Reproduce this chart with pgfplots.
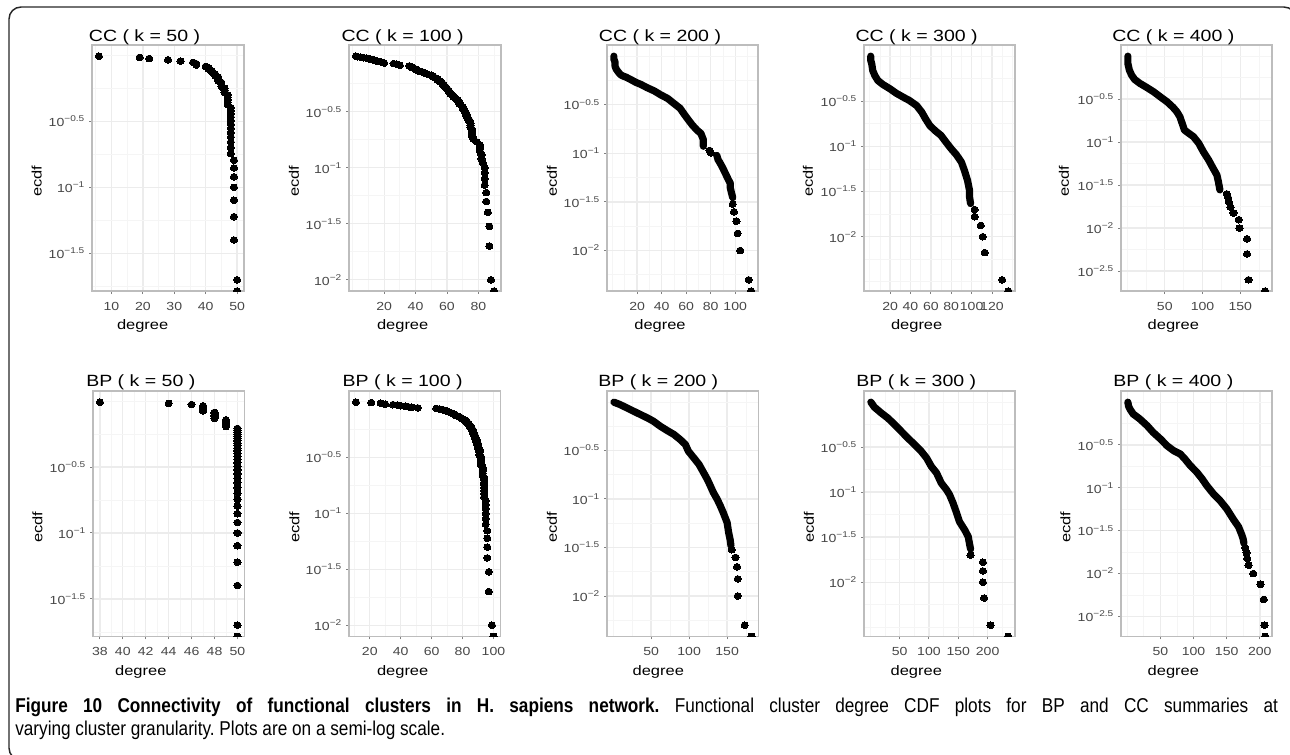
\documentclass[border=0pt]{standalone}
\usepackage{fontspec}
\setmainfont{Liberation Sans}
\newfontfamily\chartfont[FakeStretch=1.2]{Liberation Sans}
\newfontfamily\capfont[FakeStretch=0.86]{Liberation Sans}
\usepackage{pgfplots}
\pgfplotsset{compat=1.18}

\definecolor{gridmaj}{gray}{0.925}
\definecolor{gridmin}{gray}{0.96}
\definecolor{framec}{gray}{0.74}
\definecolor{tickc}{gray}{0.5}
\definecolor{ticklab}{gray}{0.28}
\newcommand\lt[1]{10\raisebox{0.42em}{\fontsize{6.3}{7}\selectfont −#1}}

\pgfplotsset{
  every axis/.append style={
    scale only axis, anchor=north west,
    width=114pt, height=184.5pt,
    axis line style={draw=framec, line width=1pt},
    grid=both,
    major grid style={draw=gridmaj, line width=1pt},
    minor grid style={draw=gridmin, line width=0.6pt},
    tick align=outside, tick pos=left,
    major tick length=2.25pt, minor tick length=0pt,
    tick style={draw=tickc, line width=0.7pt},
    tick label style={font=\chartfont\fontsize{8.8}{10}\selectfont, text=ticklab},
    xticklabel style={yshift=-2.6pt},
    clip marker paths=true,
  },
  ptsdots/.style={only marks, mark=*, mark size=2.5pt, mark options={fill=black, draw=black, line width=0pt, xscale=1.08}},
  ptsband/.style={draw=black, line width=5.4pt, line cap=round, line join=round, mark=none},
}
\pgfkeys{/pgf/number format/assume math mode=true, /pgf/number format/1000 sep={}}

\begin{document}
\begin{tikzpicture}
\path[use as bounding box] (0pt,0pt) rectangle (967.5pt,-565.5pt);
\draw[line width=1.1pt, black!85, rounded corners=9pt] (6.75pt,-5.25pt) rectangle (972pt,-570pt);

% ---------------- Row 1: CC ----------------
\begin{axis}[ymode=log, at={(69pt,-33.75pt)}, xmin=3.8, xmax=52.2,
  ymin=0.016462, ymax=1.1904, ytick={0.316228,0.1,0.0316228}, yticklabels={\lt{0.5},\lt{1},\lt{1.5}},
  minor ytick={1,0.562341,0.177828,0.0562341,0.0177828},
  xtick={10,20,30,40,50}, minor xtick={5,15,25,35,45}]
\addplot[ptsdots] coordinates {(6,0.98)(19,0.96)(22,0.94)(28,0.92)(32,0.90)(36,0.88)(37,0.86)(37,0.84)(40,0.82)(41,0.80)(41,0.78)(42,0.76)(42,0.74)(43,0.72)(43,0.70)(44,0.68)(44,0.66)(44,0.64)(45,0.62)(45,0.60)(45,0.58)(46,0.56)(46,0.54)(46,0.52)(47,0.50)(47,0.48)(47,0.46)(47,0.44)(47,0.42)(48,0.40)(48,0.38)(48,0.36)(48,0.34)(48,0.32)(48,0.30)(48,0.28)(48,0.26)(48,0.24)(48,0.22)(48,0.20)(48,0.18)(49,0.16)(49,0.14)(49,0.12)(49,0.10)(49,0.08)(49,0.06)(49,0.04)(50,0.02)(50,0.016462)};
\end{axis}

\begin{axis}[ymode=log, at={(261.75pt,-33.75pt)}, xmin=-2.4, xmax=94.4,
  ymin=0.0079469, ymax=1.2455, ytick={0.316228,0.1,0.0316228,0.01}, yticklabels={\lt{0.5},\lt{1},\lt{1.5},\lt{2}},
  minor ytick={1,0.562341,0.177828,0.0562341,0.0177828},
  xtick={20,40,60,80}, minor xtick={0,10,30,50,70,90}]
\addplot[ptsdots] coordinates {(2,0.99)(3,0.98)(5,0.97)(7,0.96)(9,0.95)(10,0.94)(11,0.93)(13,0.92)(14,0.91)(15,0.90)(16,0.89)(18,0.88)(19,0.87)(20,0.86)(26,0.85)(28,0.84)(29,0.83)(30,0.82)(36,0.81)(37,0.80)(38,0.79)(38,0.78)(39,0.77)(40,0.76)(40,0.75)(41,0.74)(42,0.73)(44,0.72)(45,0.71)(46,0.70)(47,0.69)(48,0.68)(50,0.67)(51,0.66)(51,0.65)(52,0.64)(53,0.63)(54,0.62)(54,0.61)(55,0.60)(56,0.59)(56,0.58)(57,0.57)(57,0.56)(58,0.55)(58,0.54)(59,0.53)(59,0.52)(60,0.51)(60,0.50)(61,0.49)(61,0.48)(62,0.47)(62,0.46)(63,0.45)(64,0.44)(64,0.43)(65,0.42)(66,0.41)(67,0.40)(67,0.39)(68,0.38)(68,0.37)(69,0.36)(70,0.35)(70,0.34)(71,0.33)(71,0.32)(72,0.31)(72,0.30)(73,0.29)(73,0.28)(74,0.27)(74,0.26)(75,0.25)(75,0.24)(75,0.23)(76,0.22)(76,0.21)(76,0.20)(76,0.19)(77,0.18)(79,0.17)(81,0.16)(81,0.15)(81,0.14)(82,0.13)(82,0.12)(83,0.11)(84,0.10)(84,0.09)(84,0.08)(84,0.07)(85,0.06)(85,0.05)(86,0.04)(87,0.03)(87,0.02)(88,0.01)(90,0.0079469)};
\end{axis}

\begin{axis}[ymode=log, width=113.25pt, at={(455.25pt,-33.75pt)}, xmin=-4.6, xmax=118.6,
  ymin=0.0038384, ymax=1.2960, ytick={0.316228,0.1,0.0316228,0.01}, yticklabels={\lt{0.5},\lt{1},\lt{1.5},\lt{2}},
  minor ytick={1,0.562341,0.177828,0.0562341,0.0177828,0.00562341},
  xtick={20,40,60,80,100}, minor xtick={0,10,30,50,70,90,110}]
\addplot[ptsband] coordinates {(1,0.995)(1,0.93)(2,0.86)(2,0.78)(3,0.73)(4,0.70)(6,0.65)(8,0.625)(11,0.605)(15,0.57)(19,0.535)(23,0.51)(28,0.473)(34,0.437)(39,0.40)(45,0.365)(50,0.325)(55,0.29)(58,0.256)(61,0.227)(65,0.195)(69,0.172)(72,0.16)(74,0.138)(74,0.118)};
\addplot[ptsband] coordinates {(85,0.095)(86,0.086)(88,0.078)(90,0.070)(92,0.062)(94,0.055)(96,0.049)(96,0.044)(97,0.039)(98,0.035)};
\addplot[ptsdots] coordinates {(79,0.107)(80,0.101)(98,0.03)(99,0.025)(101,0.02)(102,0.015)(104,0.01)(111,0.005)(113,0.0038384)};
\end{axis}

\begin{axis}[ymode=log, width=113.25pt, at={(648pt,-33.75pt)}, xmin=-5.6, xmax=142.6,
  ymin=0.0025061, ymax=1.3250, ytick={0.316228,0.1,0.0316228,0.01}, yticklabels={\lt{0.5},\lt{1},\lt{1.5},\lt{2}},
  minor ytick={1,0.562341,0.177828,0.0562341,0.0177828,0.00562341,0.00316228},
  xtick={20,40,60,80,100,120}, minor xtick={0,10,30,50,70,90,110,130,140}]
\addplot[ptsband] coordinates {(1,0.997)(1,0.90)(2,0.82)(3,0.69)(5,0.61)(8,0.536)(13,0.484)(20,0.433)(26,0.388)(33,0.35)(39,0.322)(46,0.283)(51,0.240)(55,0.200)(59,0.170)(64,0.150)(70,0.132)(75,0.111)(80,0.094)(85,0.081)(90,0.067)(93,0.054)(96,0.042)(98,0.0325)(98,0.0274)(99,0.0233)};
\addplot[ptsdots] coordinates {(103,0.02)(103,0.01667)(109,0.01333)(111,0.01)(113,0.00667)(130,0.00333)(136,0.0025061)};
\end{axis}

\begin{axis}[ymode=log, width=113.25pt, at={(840.75pt,-33.75pt)}, xmin=-8.1, xmax=192.1,
  ymin=0.0018531, ymax=1.3459, ytick={0.316228,0.1,0.0316228,0.01,0.00316228}, yticklabels={\lt{0.5},\lt{1},\lt{1.5},\lt{2},\lt{2.5}},
  minor ytick={1,0.562341,0.177828,0.0562341,0.0177828,0.00562341},
  xtick={50,100,150}, minor xtick={0,25,75,125,175}]
\addplot[ptsband] coordinates {(1,0.9975)(1,0.90)(1,0.82)(3,0.686)(6,0.60)(10,0.535)(17,0.481)(26,0.432)(35,0.385)(44,0.336)(53,0.294)(61,0.253)(66,0.225)(70,0.197)(73,0.165)(76,0.138)(81,0.128)(88,0.1155)(95,0.0968)(101,0.0774)(108,0.062)(114,0.0496)(119,0.0415)(121,0.0347)(123,0.0278)};
\addplot[ptsdots] coordinates {(132,0.025)(134,0.0225)(135,0.02)(137,0.0175)(141,0.015)(148,0.0125)(149,0.01)(159,0.0075)(159,0.005)(161,0.0025)(183,0.0018531)};
\end{axis}

% ---------------- Row 2: BP ----------------
\begin{axis}[ymode=log, height=184pt, width=113.5pt, at={(69.75pt,-293.25pt)}, xmin=37.4, xmax=50.6,
  ymin=0.016462, ymax=1.1904, ytick={0.316228,0.1,0.0316228}, yticklabels={\lt{0.5},\lt{1},\lt{1.5}},
  minor ytick={1,0.562341,0.177828,0.0562341,0.0177828},
  xtick={38,40,42,44,46,48,50}, minor xtick={39,41,43,45,47,49}]
\addplot[ptsdots] coordinates {(38,0.98)(44,0.96)(46,0.94)(47,0.92)(47,0.90)(47,0.88)(47,0.86)(47,0.84)(48,0.82)(48,0.80)(48,0.78)(48,0.76)(48,0.74)(49,0.72)(49,0.70)(49,0.68)(49,0.66)(49,0.64)(50,0.62)(50,0.60)(50,0.58)(50,0.56)(50,0.54)(50,0.52)(50,0.50)(50,0.48)(50,0.46)(50,0.44)(50,0.42)(50,0.40)(50,0.38)(50,0.36)(50,0.34)(50,0.32)(50,0.30)(50,0.28)(50,0.26)(50,0.24)(50,0.22)(50,0.20)(50,0.18)(50,0.16)(50,0.14)(50,0.12)(50,0.10)(50,0.08)(50,0.06)(50,0.04)(50,0.02)(50,0.016462)};
\end{axis}

\begin{axis}[ymode=log, height=184pt, width=113.5pt, at={(261.75pt,-293.25pt)}, xmin=6.55, xmax=104.45,
  ymin=0.0079469, ymax=1.2455, ytick={0.316228,0.1,0.0316228,0.01}, yticklabels={\lt{0.5},\lt{1},\lt{1.5},\lt{2}},
  minor ytick={1,0.562341,0.177828,0.0562341,0.0177828},
  xtick={20,40,60,80,100}, minor xtick={10,30,50,70,90}]
\addplot[ptsdots] coordinates {(11,0.99)(21,0.98)(27,0.97)(28,0.96)(30,0.95)(35,0.94)(38,0.93)(40,0.92)(43,0.91)(45,0.90)(47,0.89)(51,0.88)(63,0.87)(65,0.86)(67,0.85)(68,0.84)(69,0.83)(70,0.82)(71,0.81)(72,0.80)(73,0.79)(74,0.78)(75,0.77)(75,0.76)(76,0.75)(77,0.74)(78,0.73)(79,0.72)(79,0.71)(80,0.70)(81,0.69)(82,0.68)(82,0.67)(83,0.66)(83,0.65)(83,0.64)(84,0.63)(84,0.62)(85,0.61)(85,0.60)(85,0.59)(86,0.58)(86,0.57)(86,0.56)(87,0.55)(87,0.54)(87,0.53)(87,0.52)(87,0.51)(88,0.50)(88,0.49)(88,0.48)(88,0.47)(89,0.46)(89,0.45)(89,0.44)(89,0.43)(90,0.42)(90,0.41)(90,0.40)(90,0.39)(90,0.38)(91,0.37)(91,0.36)(91,0.35)(91,0.34)(91,0.33)(92,0.32)(92,0.31)(92,0.30)(92,0.29)(92,0.28)(92,0.27)(93,0.26)(93,0.25)(93,0.24)(93,0.23)(93,0.22)(94,0.21)(94,0.20)(94,0.19)(94,0.18)(94,0.17)(94,0.16)(94,0.15)(94,0.14)(95,0.13)(95,0.12)(95,0.11)(95,0.10)(95,0.09)(95,0.08)(96,0.07)(96,0.06)(96,0.05)(96,0.04)(97,0.03)(97,0.02)(99,0.01)(100,0.0079469)};
\end{axis}

\begin{axis}[ymode=log, height=184pt, width=113.5pt, at={(455.25pt,-293.25pt)}, xmin=-8.05, xmax=191.05,
  ymin=0.0038384, ymax=1.2960, ytick={0.316228,0.1,0.0316228,0.01}, yticklabels={\lt{0.5},\lt{1},\lt{1.5},\lt{2}},
  minor ytick={1,0.562341,0.177828,0.0562341,0.0177828,0.00562341},
  xtick={50,100,150}, minor xtick={0,25,75,125,175}]
\addplot[ptsband] coordinates {(1,0.995)(9,0.94)(18,0.869)(27,0.802)(36,0.741)(45,0.685)(53,0.633)(62,0.562)(71,0.508)(80,0.462)(88,0.411)(95,0.365)(99,0.311)(106,0.266)(113,0.227)(119,0.187)(124,0.159)(128,0.136)(132,0.116)(137,0.099)(141,0.085)(145,0.072)(150,0.057)(152,0.045)(154,0.038)(155,0.033)};
\addplot[ptsdots] coordinates {(156,0.03)(161,0.025)(163,0.02)(164,0.015)(164,0.01)(173,0.005)(182,0.0038384)};
\end{axis}

\begin{axis}[ymode=log, height=184pt, width=113.25pt, at={(648pt,-293.25pt)}, xmin=-10.7, xmax=246.7,
  ymin=0.0025061, ymax=1.3250, ytick={0.316228,0.1,0.0316228,0.01}, yticklabels={\lt{0.5},\lt{1},\lt{1.5},\lt{2}},
  minor ytick={1,0.562341,0.177828,0.0562341,0.0177828,0.00562341,0.00316228},
  xtick={50,100,150,200}, minor xtick={0,25,75,125,175,225}]
\addplot[ptsband] coordinates {(1,0.997)(7,0.877)(19,0.753)(30,0.663)(42,0.558)(53,0.471)(64,0.398)(76,0.335)(87,0.283)(96,0.239)(104,0.193)(113,0.163)(121,0.126)(130,0.106)(135,0.094)(141,0.076)(147,0.059)(152,0.047)(161,0.038)(167,0.032)(169,0.027)(171,0.0233)};
\addplot[ptsdots] coordinates {(171,0.02)(192,0.01667)(192,0.01333)(192,0.01)(194,0.00667)(205,0.00333)(235,0.0025061)};
\end{axis}

\begin{axis}[ymode=log, height=184pt, width=113.25pt, at={(840.75pt,-293.25pt)}, xmin=-9.35, xmax=218.35,
  ymin=0.0018531, ymax=1.3459, ytick={0.316228,0.1,0.0316228,0.01,0.00316228}, yticklabels={\lt{0.5},\lt{1},\lt{1.5},\lt{2},\lt{2.5}},
  minor ytick={1,0.562341,0.177828,0.0562341,0.0177828,0.00562341},
  xtick={50,100,150,200}, minor xtick={0,25,75,125,175}]
\addplot[ptsband] coordinates {(1,0.9975)(2,0.90)(4,0.832)(9,0.727)(19,0.635)(30,0.531)(39,0.444)(50,0.372)(60,0.31)(70,0.271)(80,0.248)(87,0.217)(95,0.182)(105,0.152)(113,0.127)(120,0.106)(130,0.085)(140,0.071)(150,0.057)(160,0.043)(168,0.035)(173,0.028)(175,0.025)(176,0.0225)};
\addplot[ptsdots] coordinates {(178,0.02)(180,0.0175)(181,0.015)(183,0.0125)(190,0.01)(201,0.0075)(206,0.005)(207,0.0025)(208,0.0018531)};
\end{axis}

% ---------------- titles and axis titles ----------------
\begin{scope}[every node/.style={inner sep=0pt}]
\foreach \x/\t in {108.4/50, 302/100, 495/200, 687.5/300, 880/400}
  \node[anchor=base, font=\chartfont\fontsize{12.2}{14}\selectfont] at (\x pt,-30.75pt) {CC ( k = \t\ )};
\foreach \x/\t in {105.6/50, 302/100, 493.7/200, 687.2/300, 880/400}
  \node[anchor=base, font=\chartfont\fontsize{12.2}{14}\selectfont] at (\x pt,-289.5pt) {BP ( k = \t\ )};
\foreach \x in {107, 302, 495, 687.5, 880}
  \node[anchor=base, font=\chartfont\fontsize{10.3}{12}\selectfont] at (\x pt,-247.1pt) {degree};
\foreach \x in {105.6, 302, 493.7, 687.2, 880}
  \node[anchor=base, font=\chartfont\fontsize{10.3}{12}\selectfont] at (\x pt,-506.6pt) {degree};
\foreach \x in {27.5, 220.5, 414, 606, 798}
  \node[rotate=90, font=\chartfont\fontsize{10.3}{12}\selectfont] at (\x pt,-135.75pt) {ecdf};
\foreach \x in {28.1, 220.9, 414, 606.75, 799.1}
  \node[rotate=90, font=\chartfont\fontsize{10.3}{12}\selectfont] at (\x pt,-395.25pt) {ecdf};
\node[anchor=base west, font=\capfont\fontsize{15}{18}\selectfont] at (11.25pt,-534pt)
  {\frenchspacing\makebox[947pt][s]{\textbf{Figure 10 Connectivity of functional clusters in H. sapiens network.} Functional cluster degree CDF plots for BP and CC summaries at}};
\node[anchor=base west, font=\capfont\fontsize{15}{18}\selectfont] at (11.25pt,-551.25pt)
  {\frenchspacing varying cluster granularity. Plots are on a semi-log scale.};
\end{scope}
\end{tikzpicture}
\end{document}
